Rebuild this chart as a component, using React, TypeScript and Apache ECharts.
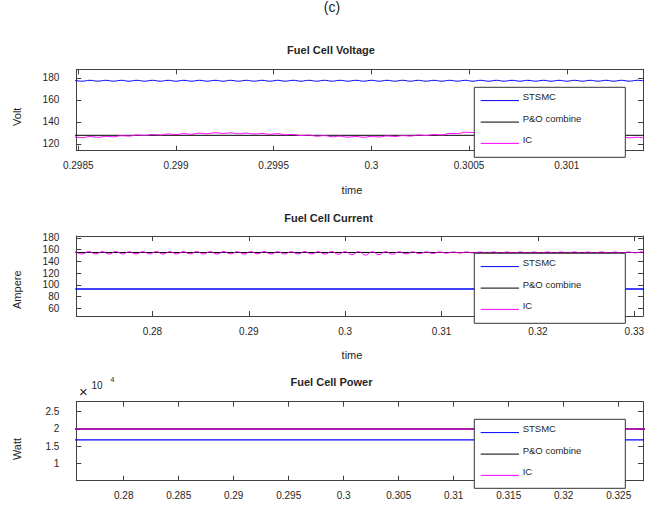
import { useEffect, useRef } from "react";
import * as echarts from "echarts";

// ---------- Plot 1: Fuel Cell Voltage ----------
const T1 = [
  0.29848, 0.29852, 0.29856, 0.2986, 0.29864, 0.29868, 0.29872, 0.29876, 0.2988, 0.29884,
  0.29888, 0.29892, 0.29896, 0.299, 0.29904, 0.29908, 0.29912, 0.29916, 0.2992, 0.29924,
  0.29928, 0.29932, 0.29936, 0.2994, 0.29944, 0.29948, 0.29952, 0.29956, 0.2996, 0.29964,
  0.29968, 0.29972, 0.29976, 0.2998, 0.29984, 0.29988, 0.29992, 0.29996, 0.3, 0.30004,
  0.30008, 0.30012, 0.30016, 0.3002, 0.30024, 0.30028, 0.30032, 0.30036, 0.3004, 0.30044,
  0.30048, 0.30052, 0.30056, 0.3006, 0.30064, 0.30068, 0.30072, 0.30076, 0.3008, 0.30084,
  0.30088, 0.30092, 0.30096, 0.301, 0.30104, 0.30108, 0.30112, 0.30116, 0.3012, 0.30124,
  0.30128, 0.30132, 0.30136, 0.3014,
];
const V1_STSMC = [
  177.9, 177.1, 177.9, 177.1, 177.9, 177.1, 177.9, 177.1, 177.9, 177.1,
  177.9, 177.1, 177.9, 177.1, 177.9, 177.1, 177.9, 177.1, 177.9, 177.1,
  177.9, 177.1, 177.9, 177.1, 177.9, 177.1, 177.9, 177.1, 177.9, 177.1,
  177.9, 177.1, 177.9, 177.1, 177.9, 177.1, 177.9, 177.1, 177.9, 177.1,
  177.9, 177.1, 177.9, 177.1, 177.9, 177.1, 177.9, 177.1, 177.9, 177.1,
  177.9, 177.1, 177.9, 177.1, 177.9, 177.1, 177.9, 177.1, 177.9, 177.1,
  177.9, 177.1, 177.9, 177.1, 177.9, 177.1, 177.9, 177.1, 177.9, 177.1,
  177.9, 177.1, 177.9, 177.1,
];
const V1_IC = [
  126.4, 125.8, 126.7, 126.1, 127.0, 126.5, 127.5, 127.2, 128.2, 127.8,
  128.7, 128.2, 129.1, 128.6, 129.4, 128.9, 129.8, 129.3, 130.2, 129.6,
  130.1, 129.3, 129.9, 129.1, 129.6, 128.8, 129.4, 128.4, 128.7, 127.7,
  128.1, 127.1, 127.6, 126.6, 127.1, 126.2, 126.8, 126.1, 126.9, 126.4,
  127.3, 126.8, 127.6, 127.2, 128.2, 127.7, 128.7, 128.2, 129.5, 129.5,
  130.7, 130.5, 131.3, 130.7, 131.4, 130.8, 131.5, 130.9, 131.6, 131.0,
  131.6, 130.5, 130.6, 129.3, 129.5, 128.3, 128.5, 127.4, 127.7, 126.5,
  126.7, 125.6, 126.1, 125.3,
];
const T1_FLAT = [0.29848, 0.3014];
const V1_PO = [127.9, 127.9];
const X1_TICKS = [0.2985, 0.299, 0.2995, 0.3, 0.3005, 0.301];
const Y1_TICKS = [120, 140, 160, 180];

// ---------- Plot 2: Fuel Cell Current ----------
const T2 = [
  0.272, 0.2727, 0.2734, 0.2741, 0.2748, 0.2755, 0.2762, 0.2769, 0.2776, 0.2783,
  0.279, 0.2797, 0.2804, 0.2811, 0.2818, 0.2825, 0.2832, 0.2839, 0.2846, 0.2853,
  0.286, 0.2867, 0.2874, 0.2881, 0.2888, 0.2895, 0.2902, 0.2909, 0.2916, 0.2923,
  0.293, 0.2937, 0.2944, 0.2951, 0.2958, 0.2965, 0.2972, 0.2979, 0.2986, 0.2993,
  0.3, 0.3007, 0.3014, 0.3021, 0.3028, 0.3035, 0.3042, 0.3049, 0.3056, 0.3063,
  0.307, 0.3077, 0.3084, 0.3091, 0.3098, 0.3105, 0.3112, 0.3119, 0.3126, 0.3133,
  0.314, 0.3147, 0.3154, 0.3161, 0.3168, 0.3175, 0.3182, 0.3189, 0.3196, 0.3203,
  0.321, 0.3217, 0.3224, 0.3231, 0.3238, 0.3245, 0.3252, 0.3259, 0.3266, 0.3273,
  0.328, 0.3287, 0.3294, 0.3301, 0.3308, 0.3315,
];
const V2_IC = [
  156.7, 152.8, 156.9, 152.9, 156.8, 152.7, 156.9, 152.9, 156.7, 152.8,
  156.8, 152.9, 156.9, 152.7, 156.8, 152.8, 156.7, 152.9, 156.9, 152.8,
  156.8, 152.7, 156.9, 152.9, 156.7, 152.8, 156.8, 152.9, 156.9, 152.7,
  156.8, 152.8, 156.7, 152.9, 156.9, 152.8, 156.8, 152.6, 156.9, 152.3,
  156.8, 151.5, 156.9, 150.8, 156.7, 151.6, 156.8, 152.4, 156.6, 152.9,
  156.5, 153.4, 156.4, 153.8, 156.3, 154.2, 156.2, 154.4, 156.2, 154.5,
  156.1, 154.5, 156.2, 154.4, 156.1, 154.5, 156.2, 154.5, 156.1, 154.4,
  156.2, 154.5, 156.1, 154.5, 156.2, 154.4, 156.1, 154.5, 156.2, 154.5,
  156.1, 154.6, 156.2, 154.7, 156.3, 154.9,
];
const T2_FLAT = [0.272, 0.3315];
const V2_STSMC = [93.2, 93.2];
const V2_PO = [155.3, 155.3];
const X2_TICKS = [0.28, 0.29, 0.3, 0.31, 0.32, 0.33];
const Y2_TICKS = [60, 80, 100, 120, 140, 160, 180];

// ---------- Plot 3: Fuel Cell Power ----------
const T3 = [0.275, 0.328];
const V3_STSMC = [16800, 16800];
const V3_PO = [19950, 19950];
const V3_IC = [19950, 19950];
const X3_TICKS = [0.28, 0.285, 0.29, 0.295, 0.3, 0.305, 0.31, 0.315, 0.32, 0.325];
const Y3_TICKS = [10000, 15000, 20000, 25000];

const NAMES = ["STSMC", "P&O combine", "IC"];
const COLORS = ["#0000ff", "#000000", "#ff00ff"];

const FF = "'Liberation Sans', Arial, Helvetica, sans-serif";
const FRAME = "#404040";
const TXT = "#262626";

const zip = (t: number[], v: number[]) => t.map((x, i) => [x, v[i]]);
const fmt = (v: number) => String(parseFloat(v.toFixed(6)));

const GRIDS = [
  { left: 76.3, top: 69.3, width: 566.7, height: 81.4 },
  { left: 76.3, top: 236, width: 566.7, height: 80 },
  { left: 76.3, top: 401.7, width: 566.7, height: 79 },
];

function xAxes(k: number, min: number, max: number, ticks: number[]) {
  const base = {
    type: "value",
    gridIndex: k,
    min,
    max,
    splitLine: { show: false },
    axisLine: { show: true, onZero: false, lineStyle: { color: FRAME, width: 1 } },
    axisTick: { show: true, inside: true, length: 5, customValues: ticks, lineStyle: { color: FRAME, width: 1 } },
  };
  return [
    {
      ...base,
      position: "bottom",
      axisLabel: { customValues: ticks, margin: 10, formatter: fmt, color: TXT, fontSize: 10, fontFamily: FF },
    },
    { ...base, position: "top", axisLabel: { show: false } },
  ];
}

function yAxes(k: number, min: number, max: number, ticks: number[], f: (v: number) => string) {
  const base = {
    type: "value",
    gridIndex: k,
    min,
    max,
    splitLine: { show: false },
    axisLine: { show: true, onZero: false, lineStyle: { color: FRAME, width: 1 } },
    axisTick: { show: true, inside: true, length: 5, customValues: ticks, lineStyle: { color: FRAME, width: 1 } },
  };
  return [
    {
      ...base,
      position: "left",
      axisLabel: { customValues: ticks, margin: 17, formatter: f, color: TXT, fontSize: 10, fontFamily: FF },
    },
    { ...base, position: "right", axisLabel: { show: false } },
  ];
}

function line(name: string, k: number, data: number[][], color: string, extra: any = {}) {
  return {
    type: "line",
    name,
    xAxisIndex: 2 * k,
    yAxisIndex: 2 * k,
    data,
    symbol: "none",
    showSymbol: false,
    lineStyle: { color, width: 1, ...(extra.lineStyle || {}) },
    itemStyle: { color },
    smooth: extra.smooth || false,
    z: extra.z || 2,
  };
}

function txt(text: string, x: number, y: number, size: number, opts: any = {}) {
  return {
    type: "text",
    x,
    y,
    rotation: opts.rotation || 0,
    z: 100,
    style: {
      text,
      fill: TXT,
      fontSize: size,
      fontFamily: FF,
      fontWeight: opts.bold ? "bold" : "normal",
      align: opts.align || "center",
      verticalAlign: "middle",
    },
  };
}

function legendBox(top: number, h: number) {
  const els: any[] = [
    {
      type: "rect",
      z: 100,
      shape: { x: 474.3, y: top, width: 151, height: h },
      style: { fill: "#ffffff", stroke: "#333333", lineWidth: 1 },
    },
  ];
  const textOff = [9, 31, 52.5];
  const lineOff = [13.3, 34.8, 56.1];
  NAMES.forEach((n, i) => {
    els.push({
      type: "line",
      z: 101,
      shape: { x1: 480.7, y1: top + lineOff[i], x2: 519, y2: top + lineOff[i] },
      style: { stroke: COLORS[i], lineWidth: 1 },
    });
    const t = txt(n, 522.7, top + textOff[i], 9.5, { align: "left" });
    (t as any).z = 101;
    els.push(t);
  });
  return els;
}

export default function App() {
  const ref = useRef<HTMLDivElement>(null);
  useEffect(() => {
    const chart = echarts.init(ref.current!, null, { renderer: "svg" });
    const option: any = {
      animation: false,
      backgroundColor: "#ffffff",
      grid: GRIDS,
      xAxis: [
        ...xAxes(0, 0.29849, 0.30139, X1_TICKS),
        ...xAxes(1, 0.2721, 0.3309, X2_TICKS),
        ...xAxes(2, 0.27569, 0.32721, X3_TICKS),
      ],
      yAxis: [
        ...yAxes(0, 113.9, 187.9, Y1_TICKS, fmt),
        ...yAxes(1, 47.2, 183.4, Y2_TICKS, fmt),
        ...yAxes(2, 4900, 27910, Y3_TICKS, (v: number) => fmt(v / 10000)),
      ],
      series: [
        line("STSMC", 0, zip(T1, V1_STSMC), COLORS[0], { smooth: true }),
        line("P&O combine", 0, zip(T1_FLAT, V1_PO), COLORS[1]),
        line("IC", 0, zip(T1, V1_IC), COLORS[2], { smooth: true, z: 3 }),
        line("STSMC", 1, zip(T2_FLAT, V2_STSMC), COLORS[0], { lineStyle: { width: 1.3 } }),
        line("P&O combine", 1, zip(T2_FLAT, V2_PO), COLORS[1]),
        line("IC", 1, zip(T2, V2_IC), COLORS[2], { smooth: true, z: 3 }),
        line("STSMC", 2, zip(T3, V3_STSMC), COLORS[0], { lineStyle: { width: 1.2 } }),
        line("P&O combine", 2, zip(T3, V3_PO), COLORS[1], { lineStyle: { width: 1.5 } }),
        line("IC", 2, zip(T3, V3_IC), COLORS[2], { z: 3, lineStyle: { width: 1.8, opacity: 0.65 } }),
      ],
      graphic: [
        txt("(c)", 332, 7, 14),
        txt("Fuel Cell Voltage", 331, 50, 11, { bold: true }),
        txt("Fuel Cell Current", 328.5, 218.3, 11, { bold: true }),
        txt("Fuel Cell Power", 331.5, 381.7, 11, { bold: true }),
        txt("Volt", 16.7, 116.8, 11, { rotation: Math.PI / 2 }),
        txt("Ampere", 17, 289.7, 11, { rotation: Math.PI / 2 }),
        txt("Watt", 17, 449, 11, { rotation: Math.PI / 2 }),
        txt("time", 352, 189.5, 11),
        txt("time", 352, 354.7, 11),
        txt("×", 83.3, 391.5, 15),
        txt("10", 97, 385.5, 10),
        txt("4", 112.5, 379.5, 7),
        ...legendBox(87.3, 70),
        ...legendBox(253.3, 70),
        ...legendBox(419.3, 69),
      ],
    };
    chart.setOption(option);
    return () => chart.dispose();
  }, []);
  return (
    <div
      ref={ref}
      style={{ position: "fixed", left: 0, top: 0, width: 659, height: 511, background: "#fff" }}
    />
  );
}
